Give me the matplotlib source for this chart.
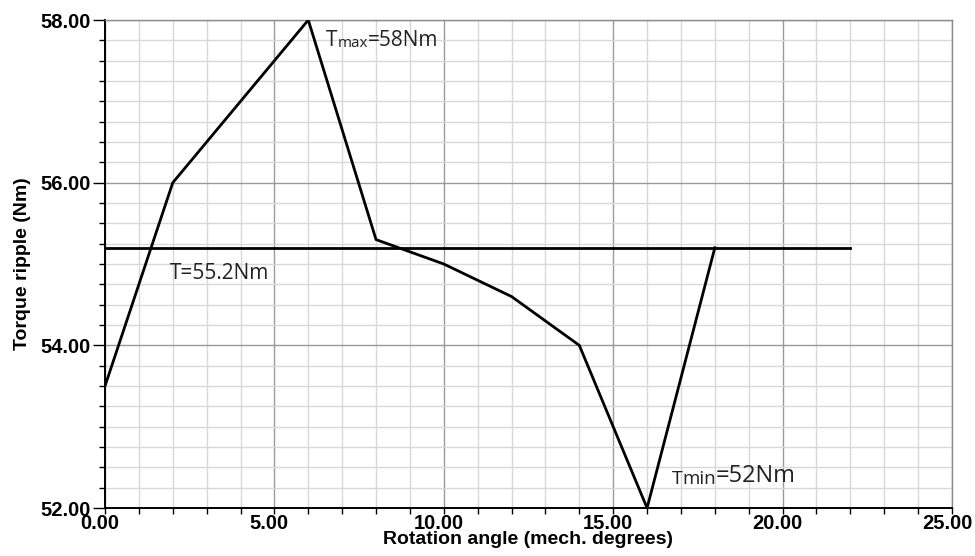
import matplotlib.pyplot as plt
import matplotlib.transforms as mtransforms
from matplotlib.ticker import MultipleLocator, FormatStrFormatter

# torque over rotor position
angle = [0, 2, 6, 8, 10, 12, 14, 16, 18]
torque = [53.5, 56.0, 58.0, 55.3, 55.0, 54.6, 54.0, 52.0, 55.2]

# average torque line
avg_x = [0, 22]
avg_torque = 55.2

fig = plt.figure(figsize=(9.75, 5.56), dpi=100)
ax = fig.add_axes([0.1077, 0.0863, 0.8687, 0.8777])

ax.plot(angle, torque, color="black", lw=2.0, zorder=3)
ax.plot(avg_x, [avg_torque, avg_torque], color="black", lw=2.0, zorder=3)

ax.set_xlim(0, 25)
ax.set_ylim(52, 58)
ax.xaxis.set_major_locator(MultipleLocator(5))
ax.xaxis.set_minor_locator(MultipleLocator(1))
ax.yaxis.set_major_locator(MultipleLocator(2))
ax.yaxis.set_minor_locator(MultipleLocator(0.25))
ax.xaxis.set_major_formatter(FormatStrFormatter("%.2f"))
ax.yaxis.set_major_formatter(FormatStrFormatter("%.2f"))

ax.grid(which="minor", color="#d8d8d8", lw=1.0)
ax.grid(which="major", color="#999999", lw=1.0)
ax.set_axisbelow(True)

for s in ["top", "right"]:
    ax.spines[s].set_color("#8c8c8c")
    ax.spines[s].set_linewidth(1.0)
for s in ["left", "bottom"]:
    ax.spines[s].set_color("black")
    ax.spines[s].set_linewidth(1.4)

tick_font = dict(family="Liberation Sans", weight="bold", size=14.5)
ax.tick_params(axis="y", which="major", length=9, width=1, pad=1)
ax.tick_params(axis="y", which="minor", length=4, width=1)
ax.tick_params(axis="x", which="major", length=4, width=1, pad=0)
ax.tick_params(axis="x", which="minor", length=4, width=1)
for lbl in ax.get_xticklabels() + ax.get_yticklabels():
    lbl.set_fontproperties(tick_font)
    lbl.set_fontweight("bold")

# x labels sit a little left of their ticks in the original
shift = mtransforms.ScaledTranslation(-0.05, 0, fig.dpi_scale_trans)
for lbl in ax.get_xticklabels():
    lbl.set_transform(lbl.get_transform() + shift)

ax.set_xlabel("Rotation angle (mech. degrees)", family="Liberation Sans",
              weight="bold", size=14, labelpad=-1)
ax.set_ylabel("Torque ripple (Nm)", family="Liberation Sans",
              weight="bold", size=14, labelpad=7)

# annotations, pieces of different size on one baseline
txt = "#222222"


def chain(parts, x, y):
    prev = None
    for s, size in parts:
        if prev is None:
            prev = ax.text(x, y, s, family="Open Sans", size=size, color=txt,
                           va="bottom", ha="left")
        else:
            prev = ax.annotate(s, xy=(1, 0), xycoords=prev, family="Open Sans",
                               size=size, color=txt, va="bottom", ha="left")


chain([("T", 15), ("max", 11), ("=58Nm", 15)], 6.52, 57.62)
chain([("T=55.2Nm", 15)], 1.9, 54.75)
chain([("T", 14), ("min", 13.5), ("=52Nm", 17)], 16.72, 52.24)

fig.savefig("out.png", dpi=100)
